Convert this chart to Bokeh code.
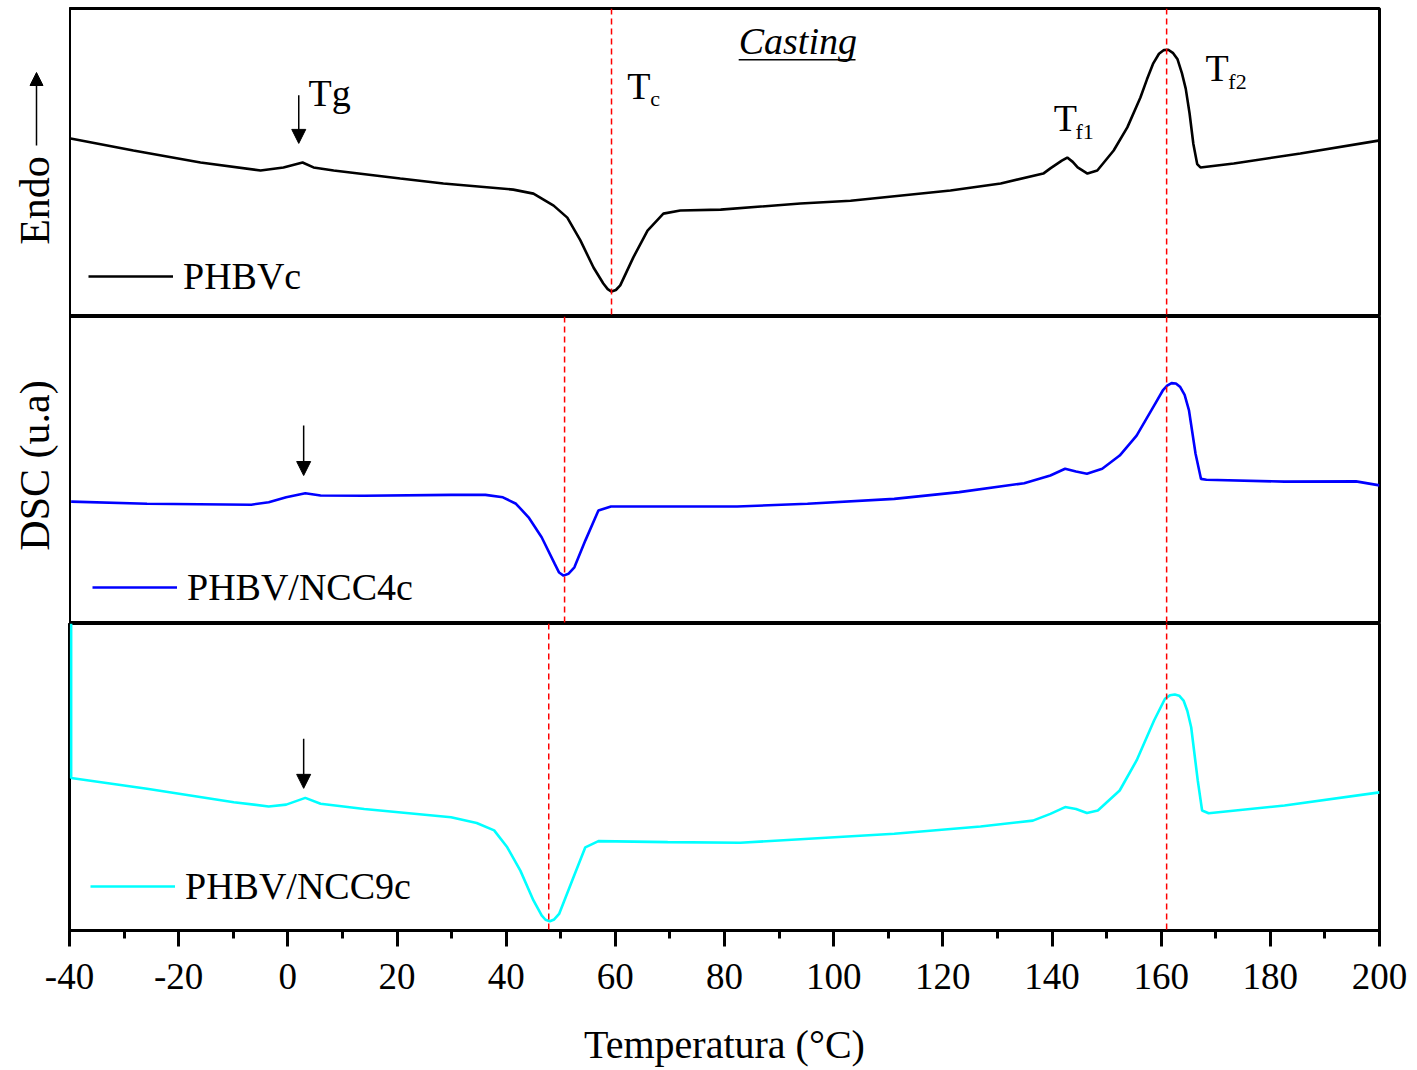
from bokeh.plotting import figure
from bokeh.models import (Range1d, Span, Label, Arrow, NormalHead, Legend, LegendItem,
                          SingleIntervalTicker)
from bokeh.layouts import column, row
from bokeh.embed import file_html
from bokeh.resources import INLINE

FONT = "Liberation Serif"

# ---------------- data (DSC, arbitrary units, per panel 0-100) ----------------
temp_phbvc = [-39.8, -28.3, -16.0, -5.0, -0.8, 2.7, 4.7, 8.4, 20.6, 28.5, 41.3, 45.0, 48.7,
              51.2, 53.6, 56.0, 57.8, 58.6, 59.3, 60.1, 60.9, 63.3, 65.9, 68.8, 71.9, 79.3,
              93.9, 103.1, 121.4, 130.6, 138.4, 139.7, 141.8, 142.8, 143.8, 144.7, 146.5,
              148.3, 151.3, 153.8, 156.2, 157.4, 158.5, 159.6, 160.5, 161.3, 162.2, 163.0,
              163.8, 164.5, 165.2, 165.9, 166.6, 167.2, 173.3, 185.5, 199.8]
dsc_phbvc = [57.8, 53.9, 50.0, 47.4, 48.4, 50.0, 48.4, 47.4, 44.8, 43.2, 41.2, 39.9, 36.0,
             32.1, 24.7, 15.9, 10.7, 8.9, 8.1, 8.6, 10.1, 19.2, 27.9, 33.4, 34.4, 34.7,
             36.7, 37.6, 40.9, 43.2, 46.4, 48.1, 50.6, 51.6, 50.2, 48.4, 46.4,
             47.4, 53.9, 61.4, 71.1, 77.0, 82.0, 85.3, 86.5, 86.6, 85.5, 83.5,
             79.0, 74.0, 66.0, 56.0, 49.5, 48.4, 49.7, 52.9, 57.1]

temp_ncc4 = [-39.7, -25.8, -6.7, -3.5, -0.3, 3.2, 6.0, 14.0, 29.9, 36.2, 39.4, 41.8, 44.1,
             46.5, 48.9, 49.7, 50.5, 51.4, 52.5, 54.5, 56.9, 59.2, 82.3, 95.2, 111.1, 123.0,
             134.9, 139.7, 142.4, 144.4, 146.4, 149.2, 152.4, 155.5, 158.7, 160.3, 161.1,
             161.9, 162.7, 163.5, 164.3, 165.1, 166.3, 167.3, 168.3, 182.6, 195.7, 200.0]
dsc_ncc4 = [39.7, 39.0, 38.7, 39.5, 41.1, 42.4, 41.7, 41.6, 41.9, 41.9, 41.1, 39.0, 34.6,
            28.1, 19.4, 16.6, 15.6, 16.2, 18.3, 27.0, 36.8, 38.1, 38.1, 39.0, 40.6, 42.8,
            45.7, 48.2, 50.4, 49.5, 48.8, 50.4, 54.7, 61.2, 71.0, 75.9, 77.5,
            78.3, 78.2, 77.0, 74.5, 69.4, 55.3, 47.1, 46.8, 46.2, 46.3, 45.0]

temp_ncc9 = [-39.7, -39.7, -25.8, -9.9, -3.5, -0.3, 3.2, 6.0, 14.0, 29.9, 34.6, 37.8, 40.2,
             42.6, 45.0, 46.5, 47.2, 48.0, 48.8, 49.7, 52.1, 54.5, 56.9, 69.6, 82.9, 111.1,
             126.9, 136.5, 139.7, 142.4, 144.4, 146.4, 148.4, 152.4, 155.5, 158.7, 160.7,
             161.6, 162.5, 163.3, 164.1, 164.8, 165.5, 166.7, 167.5, 168.7, 182.6, 200.0]
dsc_ncc9 = [100.0, 49.7, 46.2, 41.8, 40.4, 41.0, 43.2, 41.3, 39.6, 36.9, 35.0, 32.6, 27.1,
            19.5, 9.8, 4.9, 3.5, 3.0, 3.6, 5.4, 16.3, 27.1, 29.1, 28.8, 28.6, 31.5,
            33.9, 35.8, 38.0, 40.2, 39.6, 38.3, 39.1, 45.6, 55.4, 68.4, 75.5,
            76.6, 76.9, 76.5, 74.9, 71.5, 66.2, 48.9, 39.1, 38.2, 40.7, 45.0]

series_names = ["PHBVc", "PHBV/NCC4c", "PHBV/NCC9c"]
series_colors = ["#000000", "#0000FF", "#00FFFF"]
tc_values = [59.3, 50.7, 47.8]      # crystallisation peak markers (per panel)
tf2_value = 161.0                   # melting peak marker (all panels)
tg_values = [2.0, 2.9, 2.9]         # glass transition arrows
x_ticks = [-40, -20, 0, 20, 40, 60, 80, 100, 120, 140, 160, 180, 200]


def make_fig(frame_h, top_border, left_border):
    p = figure(frame_width=1310, frame_height=frame_h,
               x_range=Range1d(-40, 200), y_range=Range1d(0, 100),
               output_backend="svg", toolbar_location=None,
               min_border_left=left_border, min_border_right=30,
               min_border_top=top_border, min_border_bottom=0)
    p.grid.visible = False
    p.yaxis.visible = False
    p.outline_line_color = "black"
    p.outline_line_width = 3
    p.outline_line_alpha = 1.0
    p.background_fill_color = "white"
    p.border_fill_color = "white"
    return p


p1 = make_fig(308, 8, 0)
p2 = make_fig(307, 0, 0)
p3 = make_fig(307, 0, 69)
figs = [p1, p2, p3]
temps = [temp_phbvc, temp_ncc4, temp_ncc9]
dscs = [dsc_phbvc, dsc_ncc4, dsc_ncc9]
legend_y = [18, 14, 22]
legend_x = [19, 23, 21]

for i, p in enumerate(figs):
    p.add_layout(Span(location=tc_values[i], dimension="height", line_color="#FF0000",
                      line_dash="6 4", line_width=1.5))
    p.add_layout(Span(location=tf2_value, dimension="height", line_color="#FF0000",
                      line_dash="6 4", line_width=1.5))
    r = p.line(temps[i], dscs[i], line_color=series_colors[i], line_width=2.6)
    leg = Legend(items=[LegendItem(label=series_names[i], renderers=[r])],
                 location=(legend_x[i], legend_y[i]), orientation="vertical",
                 border_line_color=None, background_fill_alpha=0.0,
                 padding=0, margin=0, spacing=0,
                 glyph_width=85, glyph_height=40, label_height=40,
                 label_standoff=10,
                 label_text_font=FONT, label_text_font_size="38px",
                 label_text_color="black")
    p.add_layout(leg)
    if i < 2:
        p.xaxis.visible = False

# Tg arrows
tg_y = [(71.8, 56.2), (64.5, 48.2), (62.5, 46.3)]
for i, p in enumerate(figs):
    p.add_layout(Arrow(end=NormalHead(size=14, fill_color="black", line_color="black"),
                       x_start=tg_values[i], y_start=tg_y[i][0],
                       x_end=tg_values[i], y_end=tg_y[i][1],
                       line_color="black", line_width=1.5))


def lab(p, x, y, text, size="38px", style="normal"):
    p.add_layout(Label(x=x, y=y, text=text, text_font=FONT, text_font_size=size,
                       text_font_style=style, text_color="black",
                       text_align="left", text_baseline="alphabetic"))


lab(p1, 3.8, 72.7, "Tg")
lab(p1, 62.2, 75.0, "T")
lab(p1, 66.4, 70.8, "c", "22px")
lab(p1, 140.3, 64.6, "T")
lab(p1, 144.3, 60.0, "f1", "22px")
lab(p1, 168.1, 80.8, "T")
lab(p1, 172.3, 76.3, "f2", "22px")
lab(p1, 82.6, 89.6, "Casting", "38px", "italic")
p1.add_layout(Arrow(end=None, start=None, x_start=82.6, y_start=83.4, x_end=104.0,
                    y_end=83.4, line_color="black", line_width=1.5))

# left strip carrying the y-axis titles (coordinates = pixels from the strip bottom)
strip = figure(frame_width=69, frame_height=623, x_range=Range1d(0, 69),
               y_range=Range1d(0, 623), output_backend="svg", toolbar_location=None,
               min_border=0)
strip.axis.visible = False
strip.grid.visible = False
strip.outline_line_color = None
strip.background_fill_color = "white"
strip.border_fill_color = "white"
strip.add_layout(Label(x=34, y=423, text="Endo", angle=90, angle_units="deg",
                       text_font=FONT, text_font_size="42px", text_color="black",
                       text_align="center", text_baseline="middle"))
strip.add_layout(Label(x=34, y=158, text="DSC (u.a)", angle=90, angle_units="deg",
                       text_font=FONT, text_font_size="42px", text_color="black",
                       text_align="center", text_baseline="middle"))
strip.add_layout(Arrow(end=NormalHead(size=13, fill_color="black", line_color="black"),
                       x_start=36, y_start=478, x_end=36, y_end=551,
                       line_color="black", line_width=1.5))

# bottom x axis
ax = p3.xaxis[0]
ax.ticker = SingleIntervalTicker(interval=20, num_minor_ticks=2)
ax.major_label_overrides = {t: str(t) for t in x_ticks}
ax.axis_line_width = 3
ax.axis_line_color = "black"
ax.major_tick_line_width = 3
ax.minor_tick_line_width = 3
ax.major_tick_out = 16
ax.major_tick_in = 0
ax.minor_tick_out = 8
ax.minor_tick_in = 0
ax.major_label_text_font = FONT
ax.major_label_text_font_size = "37px"
ax.major_label_text_color = "black"
ax.major_label_standoff = 17
ax.axis_label = "Temperatura (°C)"
ax.axis_label_text_font = FONT
ax.axis_label_text_font_size = "40px"
ax.axis_label_text_font_style = "normal"
ax.axis_label_text_color = "black"
ax.axis_label_standoff = 30

layout = column(row(strip, column(p1, p2, spacing=0), spacing=0), p3, spacing=0)
open("out.html", "w").write(file_html(layout, INLINE))
